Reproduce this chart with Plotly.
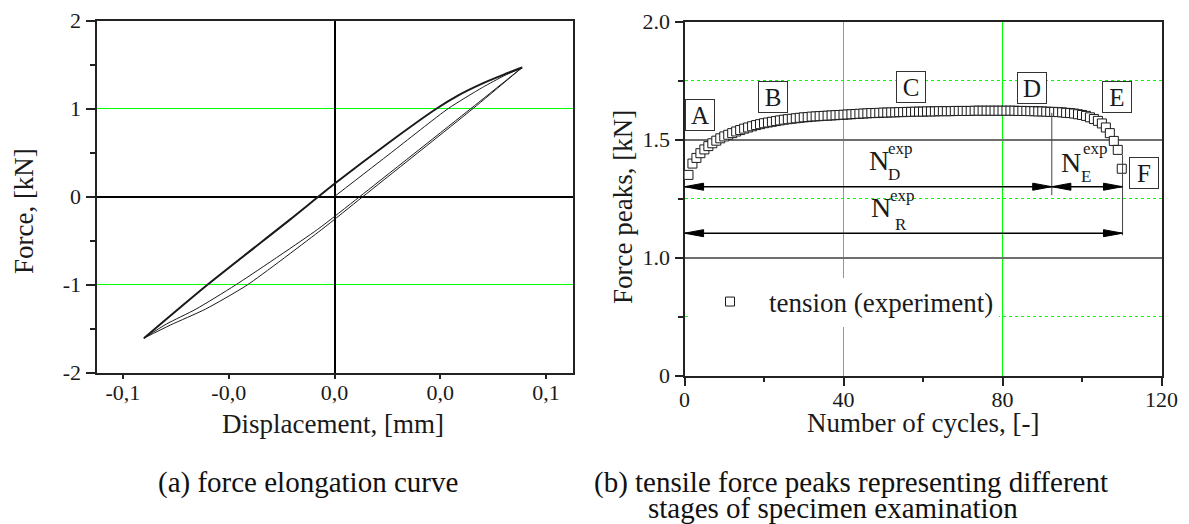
import plotly.graph_objects as go

# ---------------- (a) force / displacement hysteresis ----------------
# first loading from the origin up to the peak
first_loading_disp = [0.0, 0.0269, 0.0538, 0.0700, 0.0800, 0.0887]
first_loading_force = [0.0, 0.50, 1.00, 1.24, 1.37, 1.466]

# upper branch (lower-left peak -> upper-right peak)
upper_disp = [-0.0901, -0.0602, -0.0209, 0.0, 0.0250, 0.0483, 0.0585, 0.0690, 0.0800, 0.0887]
upper_force = [-1.61, -1.006, -0.26, 0.144, 0.60, 1.0, 1.150, 1.275, 1.385, 1.466]

# lower branches (upper-right peak -> lower-left peak), two cycles
lower_outer_disp = [0.0887, 0.0655, 0.0135, -0.0060, -0.0413, -0.0610, -0.0775, -0.0901]
lower_outer_force = [1.466, 1.0, 0.0, -0.374, -1.006, -1.28, -1.46, -1.61]
lower_inner_disp = [0.0887, 0.0645, 0.0120, -0.0080, -0.0468, -0.0655, -0.0795, -0.0901]
lower_inner_force = [1.466, 1.0, 0.0, -0.374, -1.006, -1.28, -1.45, -1.61]

disp_tick_vals = [-0.1, -0.05, 0.0, 0.05, 0.1]
disp_tick_text = ["-0,1", "-0,0", "0,0", "0,0", "0,1"]
force_tick_vals = [-2, -1, 0, 1, 2]
force_tick_text = ["-2", "-1", "0", "1", "2"]

# ---------------- (b) tensile force peaks per cycle ----------------
cycles = list(range(1, 111))
peak_force = [
    1.350, 1.398, 1.422, 1.442, 1.458, 1.472, 1.484, 1.495, 1.505, 1.513,
    1.520, 1.527, 1.534, 1.540, 1.546, 1.551, 1.556, 1.561, 1.565, 1.569,
    1.572, 1.575, 1.578, 1.581, 1.584, 1.586, 1.588, 1.590, 1.592, 1.594,
    1.595, 1.597, 1.598, 1.599, 1.600, 1.601, 1.602, 1.603, 1.604, 1.605,
    1.606, 1.607, 1.608, 1.609, 1.610, 1.611, 1.612, 1.612, 1.613, 1.614,
    1.614, 1.615, 1.615, 1.616, 1.616, 1.617, 1.617, 1.618, 1.618, 1.618,
    1.619, 1.619, 1.619, 1.620, 1.620, 1.620, 1.620, 1.621, 1.621, 1.621,
    1.621, 1.621, 1.622, 1.622, 1.622, 1.622, 1.622, 1.622, 1.622, 1.622,
    1.622, 1.622, 1.622, 1.621, 1.621, 1.621, 1.620, 1.620, 1.619, 1.619,
    1.618, 1.617, 1.617, 1.616, 1.615, 1.613, 1.612, 1.610, 1.607, 1.604,
    1.600, 1.594, 1.587, 1.579, 1.568, 1.551, 1.527, 1.494, 1.456, 1.376,
]

# broken force axis: 0 .. 1.0 is compressed into the lowest band
peak_tick_vals = [0.5, 1.0, 1.5, 2.0]
peak_tick_text = ["0", "1.0", "1.5", "2.0"]
peak_minor_vals = [0.75, 1.25, 1.75]
cycle_tick_vals = [0, 40, 80, 120]

# stage markers (label, cycle, force level of the box)
stage_labels = ["A", "B", "C", "D", "E", "F"]
stage_cycles = [4.0, 22.3, 57.0, 87.4, 108.8, 115.6]
stage_levels = [1.604, 1.681, 1.723, 1.720, 1.682, 1.357]

# experimental lifetimes (cycles)
n_d_exp = 92.4
n_r_exp = 110.2
arrow_level_d = 1.300
arrow_level_r = 1.103

# ---------------- styling ----------------
W, H = 1189, 524
SERIF = "Liberation Serif"
INK = "#1a1a1a"
GREEN = "#00ff00"
GRID_GREY = "#6e6e6e"


def px(x):
    return x / W


def py(y):
    return 1 - y / H


fig = go.Figure()

line_thin = dict(color=INK, width=1, shape="spline", smoothing=0.6)
fig.add_trace(go.Scatter(x=first_loading_disp, y=first_loading_force, mode="lines",
                         line=line_thin, xaxis="x", yaxis="y", showlegend=False))
fig.add_trace(go.Scatter(x=lower_outer_disp, y=lower_outer_force, mode="lines",
                         line=line_thin, xaxis="x", yaxis="y", showlegend=False))
fig.add_trace(go.Scatter(x=lower_inner_disp, y=lower_inner_force, mode="lines",
                         line=line_thin, xaxis="x", yaxis="y", showlegend=False))
fig.add_trace(go.Scatter(x=upper_disp, y=upper_force, mode="lines",
                         line=dict(color=INK, width=2, shape="spline", smoothing=0.6),
                         xaxis="x", yaxis="y", showlegend=False))

fig.add_trace(go.Scatter(
    x=cycles, y=peak_force, mode="markers", name="tension (experiment)",
    marker=dict(symbol="square", size=9, color="white", line=dict(color=INK, width=1)),
    xaxis="x2", yaxis="y2", showlegend=True))

tickfont = dict(family=SERIF, size=22, color=INK)
axis_common = dict(showline=True, mirror=True, linecolor="#222222", linewidth=2,
                   tickfont=tickfont, ticks="outside", tickcolor="#222222", tickwidth=1.5,
                   automargin=False, layer="below traces")

fig.update_layout(
    template="none",
    width=W, height=H, margin=dict(l=0, r=0, t=0, b=0, pad=0, autoexpand=False),
    paper_bgcolor="white", plot_bgcolor="white",
    xaxis=dict(domain=[px(96.5), px(572.5)], range=[-0.1125, 0.1125],
               tickmode="array", tickvals=disp_tick_vals, ticktext=disp_tick_text,
               ticklen=4, ticklabelstandoff=-5, showgrid=False, zeroline=True,
               zerolinecolor="black", zerolinewidth=1.5, anchor="y", **axis_common),
    yaxis=dict(domain=[py(372.5), py(20.5)], range=[-2, 2],
               tickmode="array", tickvals=force_tick_vals, ticktext=force_tick_text,
               ticklen=9, showgrid=True, gridcolor=GREEN, gridwidth=1,
               zeroline=True, zerolinecolor="black", zerolinewidth=1.5,
               minor=dict(dtick=0.5, tick0=0, ticks="outside", ticklen=5,
                          tickcolor="#222222", showgrid=False),
               anchor="x", **axis_common),
    xaxis2=dict(domain=[px(684.5), px(1161.5)], range=[0, 120],
                tickmode="array", tickvals=cycle_tick_vals, ticklen=8, ticklabelstandoff=-5,
                showgrid=True, gridcolor=GREEN, gridwidth=1, zeroline=False,
                minor=dict(dtick=20, tick0=0, ticks="outside", ticklen=4,
                           tickcolor="#222222", showgrid=False),
                anchor="y2", **axis_common),
    yaxis2=dict(domain=[py(375.5), py(21.5)], range=[0.5, 2.0],
                tickmode="array", tickvals=peak_tick_vals, ticktext=peak_tick_text,
                ticklen=8, showgrid=True, gridcolor=GRID_GREY, gridwidth=1.5,
                zeroline=False,
                minor=dict(tickmode="array", tickvals=peak_minor_vals, ticks="outside",
                           ticklen=5, tickcolor="#222222", showgrid=True,
                           gridcolor=GREEN, gridwidth=1, griddash="dot"),
                anchor="x2", **axis_common),
    legend=dict(x=px(691), y=py(302), xanchor="left", yanchor="middle",
                bgcolor="white", borderwidth=0, itemwidth=68,
                font=dict(family=SERIF, size=27, color=INK)),
    font=dict(family=SERIF, color=INK),
)

annotations = []

# axis titles
title_font = dict(family=SERIF, size=27, color=INK)
annotations += [
    dict(text="Displacement, [mm]", x=px(333.3), y=py(424), xref="paper", yref="paper",
         showarrow=False, font=title_font, xanchor="center", yanchor="middle"),
    dict(text="Force, [kN]", x=px(24.1), y=py(211), xref="paper", yref="paper",
         showarrow=False, font=title_font, textangle=-90, xanchor="center", yanchor="middle"),
    dict(text="Number of cycles, [-]", x=px(922.5), y=py(423), xref="paper", yref="paper",
         showarrow=False, font=title_font, xanchor="center", yanchor="middle"),
    dict(text="Force peaks, [kN]", x=px(622.5), y=py(207.5), xref="paper", yref="paper",
         showarrow=False, font=title_font, textangle=-90, xanchor="center", yanchor="middle"),
]

# boxed stage letters
for lab, cx, cy in zip(stage_labels, stage_cycles, stage_levels):
    annotations.append(dict(
        text=lab, x=cx, y=cy, xref="x2", yref="y2", showarrow=False,
        font=dict(family=SERIF, size=25, color=INK), width=28, height=30,
        align="center", valign="middle", bordercolor="#333333", borderwidth=1,
        borderpad=0, bgcolor="white"))

# N^exp labels: main letter, subscript, superscript
big = dict(family=SERIF, size=28, color=INK)
small = dict(family=SERIF, size=17, color=INK)
n_labels = [
    # (main x, main y, sub text, sub x, sub y, sup x, sup y)
    (48.9, 1.411, "D", 50.8, 1.352, 50.8, 1.462),
    (97.3, 1.403, "E", 99.3, 1.345, 99.7, 1.460),
    (49.4, 1.211, "R", 52.4, 1.139, 51.2, 1.262),
]
for mx, my, sub, sx, sy, ux, uy in n_labels:
    annotations.append(dict(text="N", x=mx, y=my, xref="x2", yref="y2", showarrow=False,
                            font=big, xanchor="center", yanchor="middle"))
    annotations.append(dict(text=sub, x=sx, y=sy, xref="x2", yref="y2", showarrow=False,
                            font=small, xanchor="left", yanchor="middle"))
    annotations.append(dict(text="exp", x=ux, y=uy, xref="x2", yref="y2", showarrow=False,
                            font=small, xanchor="left", yanchor="middle"))

# captions
cap_font = dict(family=SERIF, size=29, color="#111111")
annotations += [
    dict(text="(a) force elongation curve", x=px(308), y=py(482), xref="paper", yref="paper",
         showarrow=False, font=cap_font, xanchor="center", yanchor="middle"),
    dict(text="(b) tensile force peaks representing different", x=px(592), y=py(482),
         xref="paper", yref="paper", showarrow=False, font=cap_font,
         xanchor="left", yanchor="middle"),
    dict(text="stages of specimen examination", x=px(646), y=py(508),
         xref="paper", yref="paper", showarrow=False, font=cap_font,
         xanchor="left", yanchor="middle"),
]
fig.update_layout(annotations=annotations)

# dimension arrows for the experimental lifetimes
head_len = 4.8      # cycles
head_half = 0.015   # force-axis units


def head(tip_x, level, direction):
    base = tip_x - direction * head_len
    return dict(type="path", xref="x2", yref="y2",
                path=f"M {tip_x},{level} L {base},{level + head_half} L {base},{level - head_half} Z",
                fillcolor="black", line=dict(color="black", width=1))


shapes = [
    dict(type="line", xref="x2", yref="y2", x0=0, x1=n_r_exp, y0=arrow_level_d, y1=arrow_level_d,
         line=dict(color="black", width=1.5)),
    dict(type="line", xref="x2", yref="y2", x0=0, x1=n_r_exp, y0=arrow_level_r, y1=arrow_level_r,
         line=dict(color="black", width=1.5)),
    dict(type="line", xref="x2", yref="y2", x0=n_d_exp, x1=n_d_exp, y0=1.264, y1=1.613,
         line=dict(color="#444444", width=1)),
    dict(type="line", xref="x2", yref="y2", x0=n_r_exp, x1=n_r_exp, y0=1.094, y1=1.435,
         line=dict(color="#444444", width=1)),
    head(0, arrow_level_d, -1),
    head(n_d_exp, arrow_level_d, 1),
    head(n_d_exp, arrow_level_d, -1),
    head(n_r_exp, arrow_level_d, 1),
    head(0, arrow_level_r, -1),
    head(n_r_exp, arrow_level_r, 1),
]
fig.update_layout(shapes=shapes)

fig.write_html("out.html")
